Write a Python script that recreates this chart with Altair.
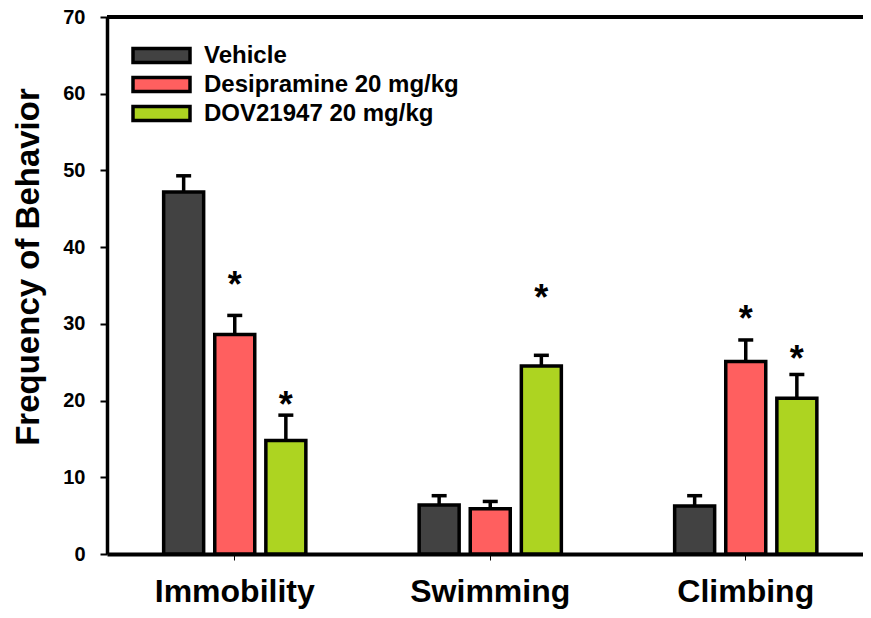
import altair as alt
import pandas as pd

categories = ["Immobility", "Swimming", "Climbing"]
groups = ["Vehicle", "Desipramine 20 mg/kg", "DOV21947 20 mg/kg"]
colors = ["#424242", "#FF5F5F", "#ADD421"]

vehicle_mean = [47.2, 6.4, 6.25]
desipramine_mean = [28.6, 5.9, 25.1]
dov_mean = [14.8, 24.5, 20.3]

vehicle_err = [2.1, 1.2, 1.35]
desipramine_err = [2.5, 0.95, 2.8]
dov_err = [3.3, 1.4, 3.1]

# asterisk heights (None = no asterisk)
vehicle_star = [None, None, None]
desipramine_star = [36.1, None, 31.7]
dov_star = [20.5, 34.4, 26.4]

y_ticks = [0, 10, 20, 30, 40, 50, 60, 70]

rows = []
for g, m, e, s in zip(groups,
                      [vehicle_mean, desipramine_mean, dov_mean],
                      [vehicle_err, desipramine_err, dov_err],
                      [vehicle_star, desipramine_star, dov_star]):
    for c, mv, ev, sv in zip(categories, m, e, s):
        rows.append({"category": c, "group": g, "mean": mv,
                     "top": mv + ev, "star": sv})
df = pd.DataFrame(rows)
stars_df = df.dropna(subset=["star"])

FONT = "Liberation Sans"

x_enc = alt.X("category:N", sort=categories,
              scale=alt.Scale(range=[0, 766.5], paddingInner=0, paddingOuter=0),
              axis=alt.Axis(title=None, labelAngle=0, labelFontSize=32,
                            labelFontWeight="bold", labelFont=FONT,
                            labelColor="black", labelPadding=41,
                            labelBaseline="alphabetic",
                            tickSize=6, tickWidth=1, tickColor="black",
                            bandPosition=0.5,
                            domainWidth=4, domainColor="black", grid=False))
xo_enc = alt.XOffset("group:N", sort=groups,
                     scale=alt.Scale(paddingInner=0, paddingOuter=1))

y_scale = alt.Scale(domain=[0, 70], nice=False, zero=True)

legend_path = "M-1,-0.2456L1,-0.2456L1,0.2456L-1,0.2456Z"

bars = alt.Chart(df).mark_bar(stroke="black", strokeWidth=3.5, width=40).encode(
    x=x_enc,
    xOffset=xo_enc,
    y=alt.Y("mean:Q", scale=y_scale,
            axis=alt.Axis(values=y_ticks, title="Frequency of Behavior",
                          titleFontSize=33, titleFontWeight="bold",
                          titleFont=FONT, titleColor="black",
                          titleAngle=270, titleAlign="center",
                          titleBaseline="alphabetic",
                          titleX=-68.5, titleY=249.5,
                          labelFontSize=20, labelFontWeight="bold",
                          labelFont=FONT, labelColor="black",
                          labelPadding=15, tickSize=7, tickWidth=2,
                          tickColor="black", domainWidth=3.5,
                          domainColor="black", grid=False)),
    color=alt.Color("group:N", sort=groups,
                    scale=alt.Scale(domain=groups, range=colors),
                    legend=alt.Legend(title=None, orient="none",
                                      legendX=24, legendY=24,
                                      symbolType=legend_path,
                                      symbolSize=3249,
                                      symbolStrokeColor="black",
                                      symbolStrokeWidth=3.5,
                                      symbolOpacity=1,
                                      labelFontSize=24,
                                      labelFontWeight="bold",
                                      labelFont=FONT,
                                      labelColor="black",
                                      labelLimit=500,
                                      clipHeight=29,
                                      rowPadding=0,
                                      padding=0,
                                      labelOffset=12,
                                      symbolOffset=0)),
)

stems = alt.Chart(df).mark_rule(color="black", strokeWidth=3.5).encode(
    x=x_enc, xOffset=xo_enc,
    y=alt.Y("mean:Q", scale=y_scale), y2="top:Q")

caps = alt.Chart(df).mark_tick(color="black", orient="horizontal", size=15,
                               thickness=3.5, opacity=1).encode(
    x=x_enc, xOffset=xo_enc,
    y=alt.Y("top:Q", scale=y_scale))

stars = alt.Chart(stars_df).mark_text(text="*", fontSize=36, fontWeight="bold",
                                      font=FONT, color="black",
                                      baseline="alphabetic", dy=20).encode(
    x=x_enc, xOffset=xo_enc,
    y=alt.Y("star:Q", scale=y_scale))

top_line = alt.Chart(pd.DataFrame({"v": [70]})).mark_rule(
    color="black", strokeWidth=4).encode(
    y=alt.Y("v:Q", scale=y_scale), x=alt.value(0), x2=alt.value(760))

chart = alt.layer(bars, stems, caps, stars, top_line).properties(
    width=756, height=537,
    autosize=alt.AutoSizeParams(type="none"),
    padding={"left": 99, "top": 9, "right": 0, "bottom": 56},
).configure_view(stroke=None).configure(font=FONT)

chart.save("out.html", embed_options={"renderer": "svg", "actions": False})
